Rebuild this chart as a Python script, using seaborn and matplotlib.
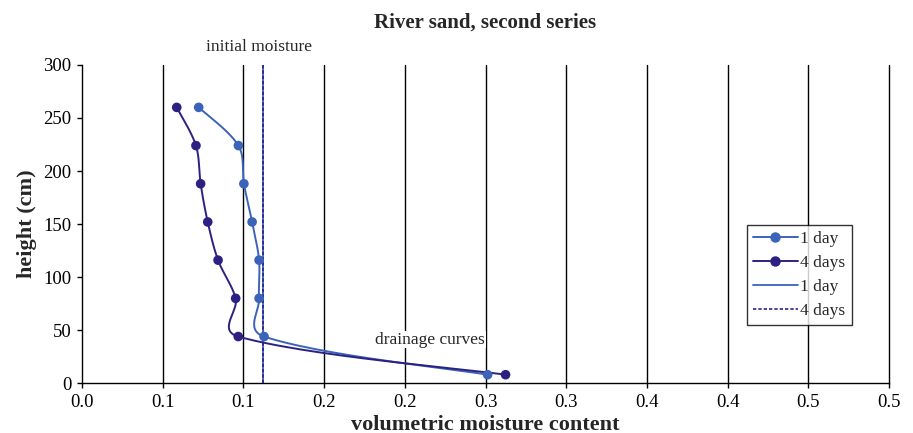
import numpy as np
import pandas as pd
import matplotlib
matplotlib.use('Agg')
import matplotlib.pyplot as plt
from matplotlib.lines import Line2D
import seaborn as sns

# heights of the measuring points (cm)
heights = [260, 224, 188, 152, 116, 80, 44, 8]
# volumetric moisture content after 1 day and 4 days
moist_1day = [0.0723, 0.0969, 0.1003, 0.1054, 0.1097, 0.1097, 0.1128, 0.2513]
moist_4days = [0.0587, 0.0706, 0.0735, 0.0779, 0.0843, 0.0952, 0.0968, 0.2624]
# initial moisture (vertical reference lines)
init_1day = 0.112
init_4days = 0.1122
init_heights = [0, 300]

x_ticks = [0.0, 0.05, 0.1, 0.15, 0.2, 0.25, 0.3, 0.35, 0.4, 0.45, 0.5]
x_ticklabels = ['0.0', '0.1', '0.1', '0.2', '0.2', '0.3', '0.3', '0.4', '0.4', '0.5', '0.5']
y_ticks = [0, 50, 100, 150, 200, 250, 300]

c_1day = '#3b63b9'
c_4days = '#2c2183'

sns.set_style('white')
plt.rcParams['font.family'] = ['Liberation Serif', 'DejaVu Serif']

# pixels per data unit, so the smoothing works on screen distances
SX = 807 / 0.5
SY = 318 / 300


def smooth(xs, ys, n=30, a=0.6):
    # bezier path through the points, tangents weighted by the neighbouring
    # segment lengths (looks like the smoothed line of a spreadsheet chart)
    p = np.column_stack([np.array(xs) * SX, np.array(ys) * SY])
    m = len(p)
    d = np.linalg.norm(np.diff(p, axis=0), axis=1) ** a
    out = []
    t = np.linspace(0, 1, n)[:, None]
    for i in range(m - 1):
        p1, p2 = p[i], p[i + 1]
        if i > 0:
            tan1 = (p2 - p[i - 1]) * d[i] / (d[i - 1] + d[i])
        else:
            tan1 = (p2 - p1) * 0.5
        if i + 2 < m:
            tan2 = (p[i + 2] - p1) * d[i] / (d[i] + d[i + 1])
        else:
            tan2 = (p2 - p1) * 0.5
        c1 = p1 + tan1 / 3
        c2 = p2 - tan2 / 3
        seg = ((1 - t) ** 3) * p1 + 3 * ((1 - t) ** 2) * t * c1 + 3 * (1 - t) * t ** 2 * c2 + t ** 3 * p2
        out.append(seg if i == 0 else seg[1:])
    out = np.vstack(out)
    return out[:, 0] / SX, out[:, 1] / SY


df = pd.DataFrame({
    'height': heights * 2,
    'moisture': moist_1day + moist_4days,
    'series': ['1 day'] * len(heights) + ['4 days'] * len(heights),
})

fig = plt.figure(figsize=(9.13, 4.33), dpi=100)
ax = fig.add_axes([0.0898, 0.115, 0.884, 0.735])

for xv in x_ticks[1:]:
    ax.axvline(xv, color='black', lw=1.0, zorder=1, clip_on=False)

# initial moisture lines
ax.plot([init_1day, init_1day], init_heights, color=c_1day, lw=1.3, zorder=2)
ax.plot([init_4days, init_4days], init_heights, color=c_4days, lw=1.2, ls=(0, (2, 1.2)), zorder=3)

for vals, col in [(moist_1day, c_1day), (moist_4days, c_4days)]:
    sx, sy = smooth(vals, heights)
    ax.plot(sx, sy, color=col, lw=1.4, zorder=4)

sns.scatterplot(data=df, x='moisture', y='height', hue='series',
                palette={'1 day': c_1day, '4 days': c_4days},
                s=48, edgecolor='none', legend=False, ax=ax, zorder=5)

ax.set_xlim(0, 0.5)
ax.set_ylim(0, 300)
ax.set_xticks(x_ticks)
ax.set_xticklabels(x_ticklabels)
ax.set_yticks(y_ticks)
ax.tick_params(axis='both', bottom=True, left=True, direction='out', length=3.5, width=1,
               labelsize=13.5, colors='black', pad=4)
for s in ['top', 'right']:
    ax.spines[s].set_visible(False)
for s in ['left', 'bottom']:
    ax.spines[s].set_color('black')
    ax.spines[s].set_linewidth(1.0)

ax.set_xlabel('volumetric moisture content', fontsize=16, fontweight='bold', labelpad=3)
ax.set_ylabel('height (cm)', fontsize=16, fontweight='bold', labelpad=5)
ax.set_title('River sand, second series', fontsize=15, fontweight='bold', pad=27)

ax.text(0.1097, 317, 'initial moisture', ha='center', va='center', fontsize=12.5, clip_on=False)
ax.text(0.2158, 41, 'drainage curves', ha='center', va='center', fontsize=12.5,
        bbox=dict(facecolor='white', edgecolor='none', pad=0.5), zorder=3)

handles = [
    Line2D([], [], color=c_1day, lw=1.4, marker='o', ms=6.5),
    Line2D([], [], color=c_4days, lw=1.4, marker='o', ms=6.5),
    Line2D([], [], color=c_1day, lw=1.3),
    Line2D([], [], color=c_4days, lw=1.2, ls=(0, (2, 1.2))),
]
leg = ax.legend(handles, ['1 day', '4 days', '1 day', '4 days'],
                loc='center left', bbox_to_anchor=(0.8235, 0.339), fontsize=12.5,
                frameon=True, fancybox=False, handlelength=2.6, handletextpad=0.15,
                labelspacing=0.45, borderpad=0.35, borderaxespad=0)
leg.get_frame().set_edgecolor('black')
leg.get_frame().set_linewidth(1.0)
leg.set_zorder(10)

fig.savefig('out.png', dpi=100)
